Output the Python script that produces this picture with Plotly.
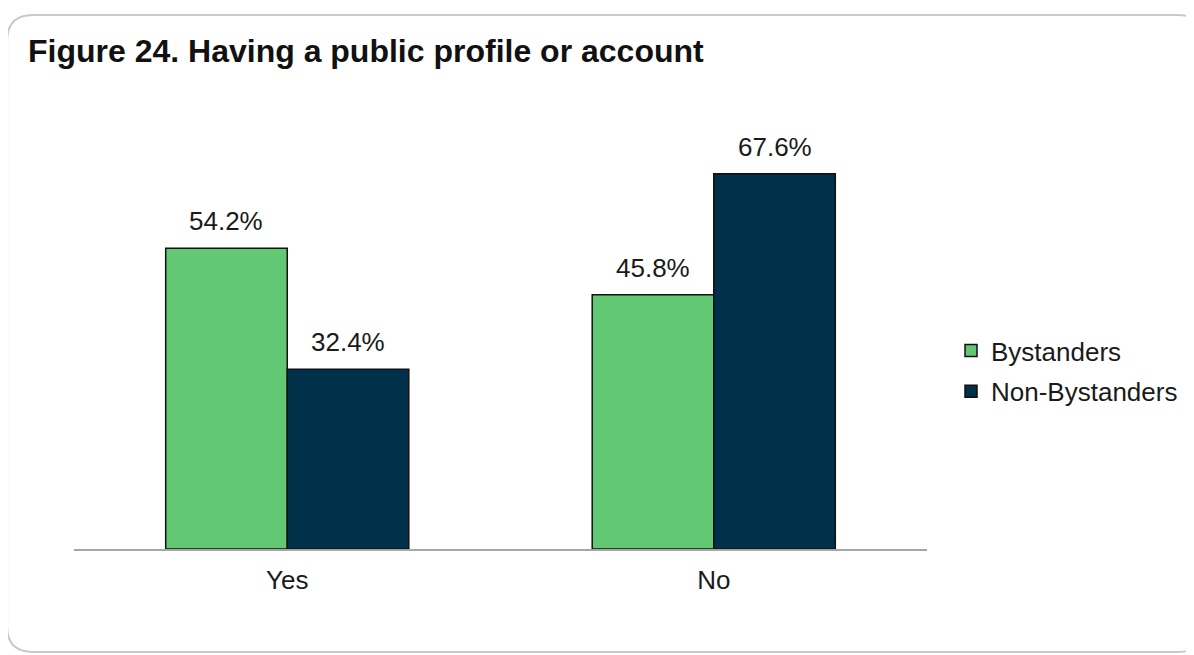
import plotly.graph_objects as go

categories = ["Yes", "No"]
bystanders = [54.2, 45.8]
non_bystanders = [32.4, 67.6]
series_names = ["Bystanders", "Non-Bystanders"]
title_text = "Figure 24. Having a public profile or account"

OFF = 8  # page body margin
W, H = 1194 - OFF, 655 - OFF
L = 74 - OFF
plot_right = 928 - OFF
plot_top = 105 - OFF
axis_y = 549 - OFF
R = W - plot_right
T = plot_top
B = H - axis_y
pw, ph = W - L - R, H - T - B
ymax = 80

GREEN = "#63c874"
NAVY = "#00304a"
FONT = "Liberation Sans, Arial, sans-serif"

fig = go.Figure()
for name, vals, col in [(series_names[0], bystanders, GREEN), (series_names[1], non_bystanders, NAVY)]:
    fig.add_trace(go.Bar(
        x=categories, y=vals, name=name, legendgroup=name,
        marker=dict(color=col, line=dict(color="#111111", width=1.5)),
        hoverinfo="skip",
    ))

# value labels above bars
bar_px = pw / len(categories) * (1 - 0.43) / 2
for i, vals in enumerate([bystanders, non_bystanders]):
    shift = (-0.5 if i == 0 else 0.5) * bar_px
    for c, v in zip(categories, vals):
        fig.add_annotation(x=c, y=v, text=f"{v:.1f}%", showarrow=False,
                           xref="x", yref="y", xshift=shift, yshift=27,
                           font=dict(size=26, color="#1a1a1a", family=FONT))

# rounded border (paper coords relative to plot area), given in page pixels
def px2x(px):
    return (px - OFF - L) / pw

def py2y(py):
    return (H - B - (py - OFF)) / ph

x0, x1, y0, y1, r = 7, 1205, 15, 652, 26
path = (f"M {px2x(x0 + r)},{py2y(y0)} L {px2x(x1 - r)},{py2y(y0)} "
        f"Q {px2x(x1)},{py2y(y0)} {px2x(x1)},{py2y(y0 + r)} "
        f"L {px2x(x1)},{py2y(y1 - r)} Q {px2x(x1)},{py2y(y1)} {px2x(x1 - r)},{py2y(y1)} "
        f"L {px2x(x0 + r)},{py2y(y1)} Q {px2x(x0)},{py2y(y1)} {px2x(x0)},{py2y(y1 - r)} "
        f"L {px2x(x0)},{py2y(y0 + r)} Q {px2x(x0)},{py2y(y0)} {px2x(x0 + r)},{py2y(y0)} Z")
fig.add_shape(type="path", path=path, xref="paper", yref="paper",
              line=dict(color="#c9c9c9", width=2), layer="below")

fig.update_layout(
    width=W, height=H,
    margin=dict(l=L, r=R, t=T, b=B),
    paper_bgcolor="white", plot_bgcolor="white",
    barmode="group", bargap=0.43, bargroupgap=0,
    title=dict(text=f"<b>{title_text}</b>", x=(28 - OFF) / W, xanchor="left",
               y=1 - (51 - OFF) / H, yanchor="middle",
               font=dict(size=32, color="#111111", family=FONT)),
    font=dict(family=FONT, color="#1a1a1a"),
    xaxis=dict(showline=True, linecolor="#a6a6a6", linewidth=1.5, ticks="",
               ticklabelstandoff=7,
               tickfont=dict(size=26, color="#1a1a1a"), showgrid=False, zeroline=False),
    yaxis=dict(range=[0, ymax], visible=False, showgrid=False, zeroline=False),
    legend=dict(x=px2x(951), xanchor="left", y=py2y(371), yanchor="middle",
                font=dict(size=26, color="#1a1a1a"), traceorder="grouped",
                tracegroupgap=4, itemwidth=30, bgcolor="rgba(0,0,0,0)"),
    showlegend=True,
)

fig.write_html("out.html")
